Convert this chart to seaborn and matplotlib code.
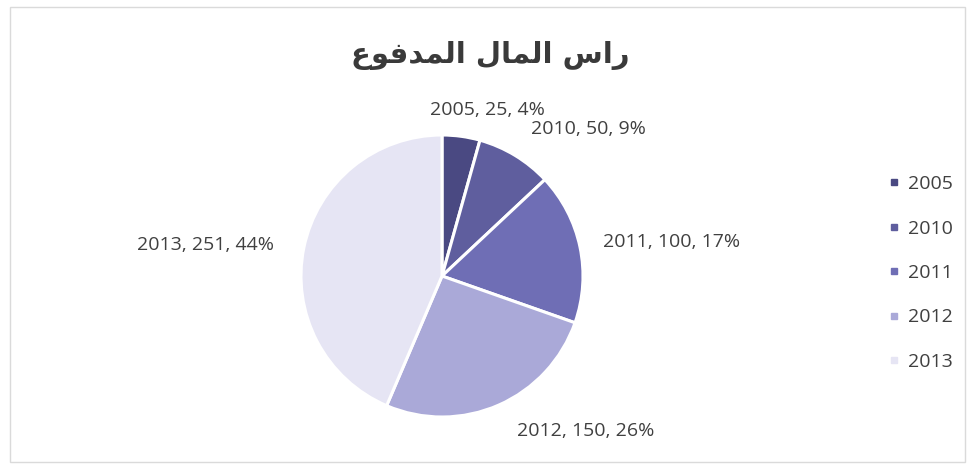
import matplotlib
matplotlib.use("Agg")
import matplotlib.pyplot as plt
import seaborn as sns
from matplotlib.lines import Line2D
from matplotlib.patches import Rectangle

# Data
years = ["2005", "2010", "2011", "2012", "2013"]
paid_capital = [25, 50, 100, 150, 251]
percent_labels = ["4%", "9%", "17%", "26%", "44%"]
slice_colors = ["#4a4982", "#5f5e9e", "#6f6eb5", "#aaa9d8", "#e6e5f4"]

# Title "راس المال المدفوع" in Arabic presentation forms, visual order
title_text = ("\uFEC9\uFEEE\uFED3\uFEAA\uFEE4\uFEDF\uFE8D"
              " \uFEDD\uFE8E\uFEE4\uFEDF\uFE8D"
              " \uFEB1\uFE8D\uFEAD")

sns.set_theme(style="white")
plt.rcParams["font.family"] = ["Open Sans", "DejaVu Sans"]

W, H = 970, 470
fig = plt.figure(figsize=(W / 100, H / 100), dpi=100)
fig.patch.set_facecolor("white")

# thin frame around the chart area
fig.patches.append(Rectangle((10 / W, 8 / H), 955 / W, 455 / H, transform=fig.transFigure,
                             fill=False, edgecolor="#dadada", linewidth=1))

# pie axes: centre (442, 276) px, radius 141 px
cx, cy, r, L = 442, H - 276, 141, 1.9
ax = fig.add_axes([(cx - r * L) / W, (cy - r * L) / H, 2 * r * L / W, 2 * r * L / H])
wedges, _ = ax.pie(paid_capital, colors=slice_colors, startangle=90, counterclock=False,
                   radius=1, wedgeprops=dict(edgecolor="white", linewidth=2.2))
ax.set_xlim(-L, L)
ax.set_ylim(-L, L)
ax.set_aspect("equal")
ax.axis("off")

# data label positions (in pie radius units)
label_pos = [(0.32, 1.18), (1.04, 1.04), (1.63, 0.24), (1.02, -1.10), (-1.68, 0.22)]
for yr, val, pct, (lx, ly) in zip(years, paid_capital, percent_labels, label_pos):
    ax.text(lx, ly, f"{yr}, {val}, {pct}", ha="center", va="center",
            fontsize=14, color="#404040", clip_on=False)

fig.text(490 / W, 1 - 55 / H, title_text, ha="center", va="center",
         fontsize=21, fontweight="bold", color="#3a3a3a", family=["DejaVu Sans"])

handles = [Line2D([0], [0], marker="s", linestyle="none", markersize=4.5,
                  markerfacecolor=c, markeredgecolor=c) for c in slice_colors]
fig.legend(handles, years, loc="center left", bbox_to_anchor=(869 / W, 1 - 273 / H),
           frameon=False, fontsize=14, labelspacing=1.36, handletextpad=0.3,
           handlelength=0.8, labelcolor="#404040")

fig.savefig("out.png", dpi=100, facecolor="white")
